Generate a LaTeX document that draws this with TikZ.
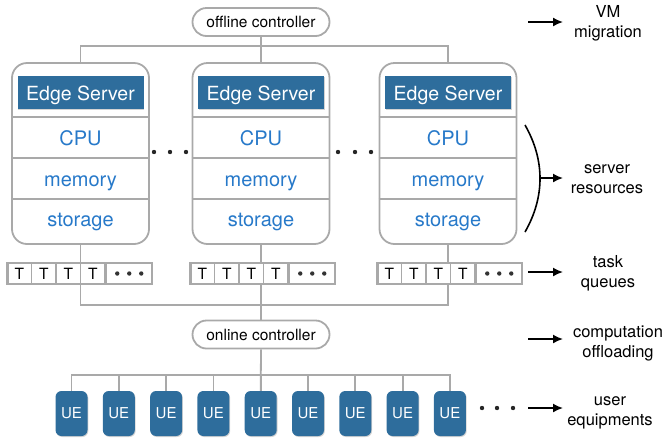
\documentclass[tikz,border=0pt]{standalone}
\usepackage{fontspec}
\setmainfont{TeX Gyre Heros}
\usetikzlibrary{arrows.meta,shadows,calc}
\definecolor{wiregray}{HTML}{A9A9A9}
\definecolor{esblue}{HTML}{2E6D9C}
\definecolor{restext}{HTML}{2779C9}

\begin{document}
\begin{tikzpicture}[x=1pt,y=-1pt]
        % Style definitions
        \tikzset{
            wire/.style={wiregray, line width=1.8pt},
            ctrl/.style={draw=wiregray, line width=1.8pt, rounded corners=14pt, minimum width=137pt, minimum height=28pt, inner sep=0pt, font=\fontsize{15.5}{18}\selectfont},
            server/.style={draw=wiregray, line width=1.8pt, rounded corners=15pt, minimum width=137pt, minimum height=181pt, inner sep=0pt},
            esbox/.style={fill=esblue, minimum width=126pt, minimum height=33pt, inner sep=0pt, drop shadow={opacity=0.35, shadow xshift=0.8pt, shadow yshift=-1pt}},
            estext/.style={text=white, anchor=base, inner sep=0pt, font=\fontsize{19.5}{22}\selectfont},
            res/.style={text=restext, anchor=base, inner sep=0pt, font=\fontsize{20}{24}\selectfont},
            qframe/.style={draw=wiregray, line width=1.8pt, minimum width=144pt, minimum height=21pt, inner sep=0pt},
            tcell/.style={draw=wiregray, line width=1.3pt, minimum width=24.5pt, minimum height=21pt, inner sep=0pt, font=\fontsize{15.5}{18}\selectfont},
            dcell/.style={tcell, minimum width=46pt},
            ue/.style={fill=esblue, text=white, rounded corners=6pt, minimum width=32pt, minimum height=45pt, inner sep=0pt, drop shadow={opacity=0.35, shadow xshift=0.8pt, shadow yshift=-1pt}, font=\fontsize{15}{18}\selectfont},
            note/.style={align=center, font=\fontsize{16.5}{20}\selectfont},
            pointer/.style={-{Latex[length=10pt,width=9pt]}, line width=1.6pt}
        }
        \useasboundingbox (0,0) rectangle (669,440);

        % ==========================================
        % OFFLINE CONTROLLER AND EDGE SERVERS
        % ==========================================
        \node[ctrl] (offctl) at (261,22) {offline controller};

        \foreach \i/\cx in {1/80.5, 2/261, 3/448} {
            \node[server] (srv\i) at (\cx,153.5) {};
            \draw[wire] (srv\i.west |- 0,117) -- (srv\i.east |- 0,117);
            \draw[wire] (srv\i.west |- 0,158) -- (srv\i.east |- 0,158);
            \draw[wire] (srv\i.west |- 0,199) -- (srv\i.east |- 0,199);
            \node[esbox] (es\i) at (\cx,92.5) {};
            \node[estext] (est\i) at (\cx,100) {Edge Server};
            \node[res] (cpu\i) at (\cx,145.5) {CPU};
            \node[res] (mem\i) at (\cx,186.5) {memory};
            \node[res] (sto\i) at (\cx,226.5) {storage};
        }

        \draw[wire] (srv1.north) -- ++(0,-16) -| (srv3.north);
        \draw[wire] (offctl.south) -- (srv2.north);

        % dots between the servers
        \foreach \dx in {154,170,186,338,355,371}
            \fill[black!85] (\dx,152) circle (2.2pt);

        % ==========================================
        % TASK QUEUES
        % ==========================================
        \foreach \i/\cx in {1/80, 2/263, 3/450} {
            \node[qframe] (q\i) at (\cx,273.5) {};
            \foreach \k in {1,...,4}
                \node[tcell] (q\i-t\k) at ($(q\i.west)+(24.5*\k-12.25,0)$) {T};
            \node[dcell, anchor=east] (q\i-d) at (q\i.east) {};
            \foreach \dx in {-12,0,12}
                \fill[black!80] ($(q\i-d.center)+(\dx,0)$) circle (2.2pt);
            \draw[wire] (srv\i.south) -- (srv\i.south |- q\i.north);
        }

        \draw[wire] (srv1.south |- q1.south) -- ++(0,20) -| (srv3.south |- q3.south);

        % ==========================================
        % ONLINE CONTROLLER AND USER EQUIPMENTS
        % ==========================================
        \node[ctrl] (onctl) at (261,334.5) {online controller};
        \draw[wire] (srv2.south |- q2.south) -- (onctl.north);

        \foreach \u in {1,...,9}
            \node[ue] (ue\u) at ({71.5+47.3*(\u-1)},413.5) {UE};

        \draw[wire] (ue1.north) -- ++(0,-16) -| (ue9.north);
        \foreach \u in {2,...,8}
            \draw[wire] (ue\u.north) -- ++(0,-16);
        \draw[wire] (onctl.south) -- (ue5.north);

        \foreach \dx in {482,497,513}
            \fill[black!85] (\dx,408) circle (2.2pt);

        % ==========================================
        % LABELS ON THE RIGHT
        % ==========================================
        \node[note] (lblvm) at (608,23) {VM\\migration};
        \coordinate (avm) at (528,22);
        \draw[pointer] (avm) -- ++(35,0);

        \draw[line width=1.6pt] (525,125) .. controls (545,160) and (545,197) .. (525,232);
        \coordinate (ares) at (539,178);
        \node[note] (lblres) at (607,179) {server\\resources};
        \draw[pointer] (ares) -- ++(24,0);

        \node[note] (lbltask) at (608,273) {task\\queues};
        \coordinate (atask) at (528,272);
        \draw[pointer] (atask) -- ++(35,0);

        \node[note] (lbloff) at (618,343) {computation\\offloading};
        \coordinate (aoff) at (528,339);
        \draw[pointer] (aoff) -- ++(35,0);

        \node[note] (lblue) at (610,413) {user\\equipments};
        \coordinate (aue) at (528,408);
        \draw[pointer] (aue) -- ++(35,0);

    \end{tikzpicture}
\end{document}
